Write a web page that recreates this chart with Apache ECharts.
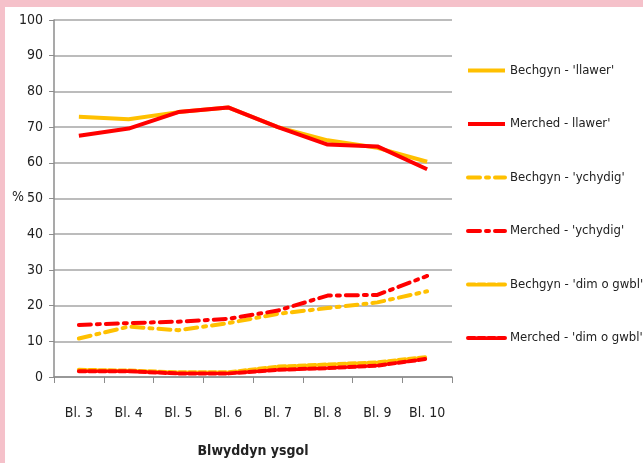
<!DOCTYPE html>
<html>
<head>
<meta charset="utf-8">
<script src="https://cdn.jsdelivr.net/npm/echarts@6/dist/echarts.min.js"></script>
<style>
  html, body { margin: 0; padding: 0; background: #fff; }
  #chart { width: 643px; height: 463px; }
</style>
</head>
<body>
<div id="chart"></div>
<script>
// categories (school year)
const years = ['Bl. 3', 'Bl. 4', 'Bl. 5', 'Bl. 6', 'Bl. 7', 'Bl. 8', 'Bl. 9', 'Bl. 10'];

// % per answer, boys / girls
const bechgynLlawer   = [72.9, 72.2, 74.2, 75.5, 70.0, 66.3, 64.2, 60.3];
const merchedLlawer   = [67.6, 69.6, 74.2, 75.5, 70.0, 65.1, 64.6, 58.2];
const bechgynYchydig  = [10.8, 14.1, 13.1, 15.1, 17.7, 19.3, 20.9, 24.0];
const merchedYchydig  = [14.6, 15.1, 15.5, 16.3, 18.6, 22.8, 23.0, 28.3];
const bechgynDim      = [2.0, 1.8, 1.3, 1.3, 2.9, 3.5, 4.1, 5.6];
const merchedDim      = [1.6, 1.6, 1.0, 1.0, 2.0, 2.5, 3.2, 5.1];

const yTicks = { min: 0, max: 100, interval: 10 };

const YELLOW = '#FFC000';
const RED = '#FF0000';
const FONT = '"DejaVu Sans Condensed", "Liberation Sans", sans-serif';

const dashDot = [12, 6, 3, 6];
const shortDash = [7, 3];

function line(name, data, color, dash) {
  return {
    name: name,
    type: 'line',
    data: data,
    symbol: 'none',
    smooth: false,
    lineStyle: {
      color: color,
      width: 4,
      type: dash || 'solid',
      cap: dash ? 'round' : 'butt'
    },
    itemStyle: { color: color },
    z: color === RED ? 3 : 2
  };
}

const myChart = echarts.init(document.getElementById('chart'), null, { renderer: 'canvas' });

const option = {
  animation: false,
  graphic: [
    { type: 'rect', shape: { x: 0, y: 0, width: 643, height: 7 }, style: { fill: '#F5C1CA' }, silent: true },
    { type: 'rect', shape: { x: 0, y: 0, width: 5, height: 463 }, style: { fill: '#F5C1CA' }, silent: true },
    { type: 'text', left: 12, top: 190, style: { text: '%', font: '14px ' + FONT, fill: '#222' } }
  ],
  grid: {
    left: 54,
    top: 20,
    right: 191,
    bottom: 85
  },
  legend: {
    orient: 'vertical',
    left: 461,
    top: 59,
    itemWidth: 37,
    itemHeight: 14,
    itemGap: 40.5,
    itemStyle: { opacity: 0 },
    lineStyle: { width: 4 },
    textStyle: { fontFamily: FONT, fontSize: 13, color: '#222' },
    data: [
      "Bechgyn - 'llawer'",
      "Merched - llawer'",
      "Bechgyn - 'ychydig'",
      "Merched - 'ychydig'",
      "Bechgyn - 'dim o gwbl'",
      "Merched - 'dim o gwbl'"
    ]
  },
  xAxis: {
    type: 'category',
    data: years,
    boundaryGap: true,
    name: 'Blwyddyn ysgol',
    nameLocation: 'middle',
    nameGap: 67,
    nameTextStyle: { fontFamily: FONT, fontSize: 14, fontWeight: 'bold', color: '#222' },
    axisLine: { lineStyle: { color: '#8c8c8c', width: 1.5 } },
    axisTick: { show: true, length: 6, alignWithLabel: false, lineStyle: { color: '#8c8c8c' } },
    axisLabel: { fontFamily: FONT, fontSize: 14, color: '#222', margin: 29, interval: 0 },
    splitLine: { show: false }
  },
  yAxis: {
    type: 'value',
    min: yTicks.min,
    max: yTicks.max,
    interval: yTicks.interval,
    axisLine: { show: true, lineStyle: { color: '#8c8c8c', width: 1.5 } },
    axisTick: { show: true, length: 5, lineStyle: { color: '#8c8c8c' } },
    axisLabel: { fontFamily: FONT, fontSize: 14, color: '#222', margin: 11 },
    splitLine: { show: true, lineStyle: { color: '#a6a6a6', width: 1.5 } }
  },
  series: [
    line("Bechgyn - 'llawer'", bechgynLlawer, YELLOW),
    line("Merched - llawer'", merchedLlawer, RED),
    line("Bechgyn - 'ychydig'", bechgynYchydig, YELLOW, dashDot),
    line("Merched - 'ychydig'", merchedYchydig, RED, dashDot),
    line("Bechgyn - 'dim o gwbl'", bechgynDim, YELLOW, shortDash),
    line("Merched - 'dim o gwbl'", merchedDim, RED, shortDash)
  ]
};

myChart.setOption(option);
</script>
</body>
</html>
